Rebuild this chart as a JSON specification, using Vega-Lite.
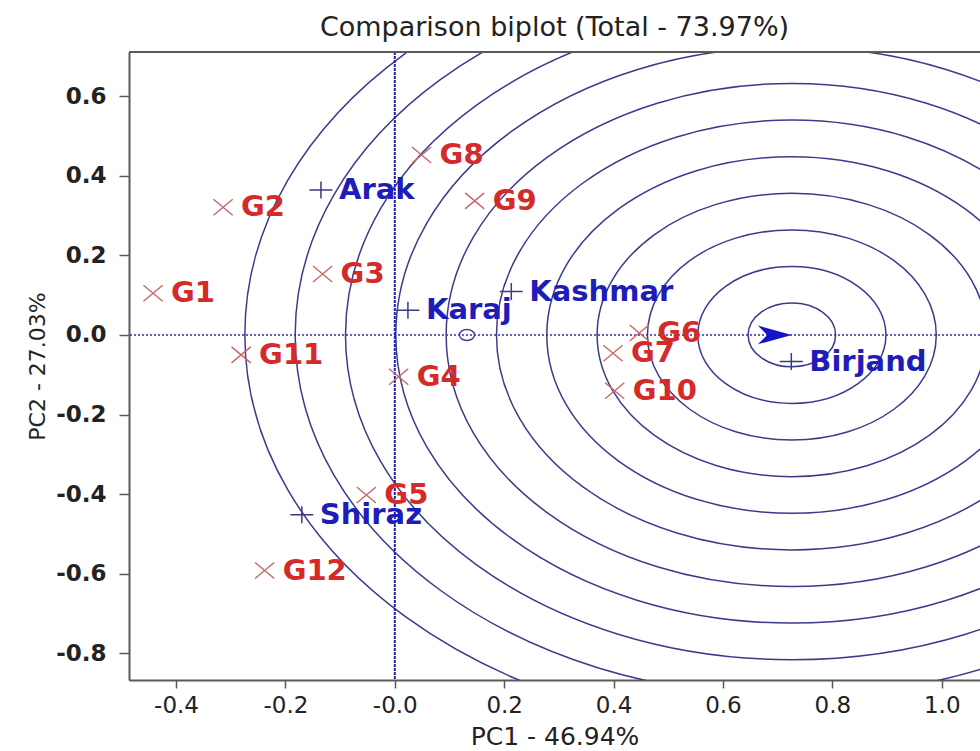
{
  "$schema": "https://vega.github.io/schema/vega-lite/v6.json",
  "width": 851,
  "height": 628,
  "autosize": {"type": "none"},
  "padding": {"left": 129, "top": 52, "right": 0, "bottom": 71},
  "background": "white",
  "title": {"text": "Comparison biplot (Total - 73.97%)", "font": "DejaVu Sans", "fontSize": 27, "fontWeight": "normal", "color": "#222222", "offset": 9, "anchor": "middle"},
  "config": {"view": {"stroke": null}, "axis": {"grid": false}},
  "datasets": {
    "rings": [
      {"pc1": 0.726, "pc2": 0, "r": 0.08},
      {"pc1": 0.726, "pc2": 0, "r": 0.172},
      {"pc1": 0.726, "pc2": 0, "r": 0.264},
      {"pc1": 0.726, "pc2": 0, "r": 0.356},
      {"pc1": 0.726, "pc2": 0, "r": 0.448},
      {"pc1": 0.726, "pc2": 0, "r": 0.54},
      {"pc1": 0.726, "pc2": 0, "r": 0.632},
      {"pc1": 0.726, "pc2": 0, "r": 0.724},
      {"pc1": 0.726, "pc2": 0, "r": 0.816},
      {"pc1": 0.726, "pc2": 0, "r": 0.908},
      {"pc1": 0.726, "pc2": 0, "r": 1.0}
    ],
    "genotypes": [
      {"name": "G1", "pc1": -0.442, "pc2": 0.105},
      {"name": "G2", "pc1": -0.314, "pc2": 0.321},
      {"name": "G3", "pc1": -0.132, "pc2": 0.153},
      {"name": "G4", "pc1": 0.007, "pc2": -0.105},
      {"name": "G5", "pc1": -0.052, "pc2": -0.402},
      {"name": "G6", "pc1": 0.447, "pc2": 0.005},
      {"name": "G7", "pc1": 0.399, "pc2": -0.046},
      {"name": "G8", "pc1": 0.049, "pc2": 0.452},
      {"name": "G9", "pc1": 0.146, "pc2": 0.337},
      {"name": "G10", "pc1": 0.402, "pc2": -0.14},
      {"name": "G11", "pc1": -0.281, "pc2": -0.05},
      {"name": "G12", "pc1": -0.238, "pc2": -0.592}
    ],
    "environments": [
      {"name": "Arak", "pc1": -0.135, "pc2": 0.364},
      {"name": "Karaj", "pc1": 0.024, "pc2": 0.062},
      {"name": "Kashmar", "pc1": 0.213, "pc2": 0.109},
      {"name": "Birjand", "pc1": 0.725, "pc2": -0.067},
      {"name": "Shiraz", "pc1": -0.17, "pc2": -0.452}
    ],
    "ideal": [{"pc1": 0.726, "pc2": 0}],
    "average": [{"pc1": 0.132, "pc2": 0}],
    "refx": [{"pc1": 0}],
    "refy": [{"pc2": 0}],
    "frametop": [{"pc2": 0.711}]
  },
  "layer": [
    {
      "data": {"name": "rings"},
      "mark": {"type": "point", "shape": "M-1.3744,0A1.3744,1 0 1,0 1.3744,0A1.3744,1 0 1,0 -1.3744,0Z", "filled": false, "stroke": "#3b3b8c", "strokeWidth": 1.5, "opacity": 1, "clip": true},
      "encoding": {
        "x": {"field": "pc1", "type": "quantitative", "title": "PC1 - 46.94%", "scale": {"domain": [-0.486, 1.07], "nice": false, "zero": false},
          "axis": {"values": [-0.4, -0.2, 0, 0.2, 0.4, 0.6, 0.8, 1.0], "labelExpr": "datum.value == 0 ? '-0.0' : (datum.value < 0 ? '-' : '') + format(abs(datum.value), '.1f')", "domainColor": "#5a5a5a", "domainWidth": 2, "tickColor": "#5a5a5a", "tickWidth": 1.5, "tickSize": 8, "labelFont": "DejaVu Sans", "labelFontSize": 23, "labelColor": "#222222", "labelPadding": 6, "titleFont": "DejaVu Sans", "titleFontSize": 25, "titleFontWeight": "normal", "titleColor": "#222222", "titlePadding": 7}},
        "y": {"field": "pc2", "type": "quantitative", "title": "PC2 - 27.03%", "scale": {"domain": [-0.867, 0.711], "nice": false, "zero": false},
          "axis": {"values": [-0.8, -0.6, -0.4, -0.2, 0, 0.2, 0.4, 0.6], "labelExpr": "(datum.value < -0.001 ? '-' : '') + format(abs(datum.value), '.1f')", "domainColor": "#5a5a5a", "domainWidth": 2, "tickColor": "#5a5a5a", "tickWidth": 1.5, "tickSize": 10, "labelFont": "DejaVu Sans", "labelFontWeight": "bold", "labelFontSize": 23, "labelColor": "#222222", "labelPadding": 13, "titleFont": "DejaVu Sans", "titleFontSize": 22, "titleFontWeight": "normal", "titleColor": "#222222", "titlePadding": 6}},
        "size": {"field": "r", "type": "quantitative", "scale": {"type": "pow", "exponent": 2, "domain": [0, 1], "range": [0, 633616]}, "legend": null}
      }
    },
    {
      "data": {"name": "refy"},
      "mark": {"type": "rule", "color": "#30309a", "strokeWidth": 1.5, "strokeDash": [2, 2]},
      "encoding": {
        "y": {"field": "pc2", "type": "quantitative"}
      }
    },
    {
      "data": {"name": "refx"},
      "mark": {"type": "rule", "color": "#2323a8", "strokeWidth": 2, "strokeDash": [3, 1]},
      "encoding": {
        "x": {"field": "pc1", "type": "quantitative"}
      }
    },
    {
      "data": {"name": "frametop"},
      "mark": {"type": "rule", "color": "#5a5a5a", "strokeWidth": 2},
      "encoding": {
        "y": {"field": "pc2", "type": "quantitative"}
      }
    },
    {
      "data": {"name": "average"},
      "mark": {"type": "point", "shape": "M-1.3744,0A1.3744,1 0 1,0 1.3744,0A1.3744,1 0 1,0 -1.3744,0Z", "filled": false, "stroke": "#3a3a9a", "strokeWidth": 1.4, "opacity": 1, "size": 121},
      "encoding": {
        "x": {"field": "pc1", "type": "quantitative"},
        "y": {"field": "pc2", "type": "quantitative"}
      }
    },
    {
      "data": {"name": "ideal"},
      "mark": {"type": "point", "shape": "M0,0L-2,-0.55L-1.45,0L-2,0.55Z", "filled": true, "fill": "#1414c8", "strokeWidth": 0, "opacity": 1, "size": 1156},
      "encoding": {
        "x": {"field": "pc1", "type": "quantitative"},
        "y": {"field": "pc2", "type": "quantitative"}
      }
    },
    {
      "data": {"name": "genotypes"},
      "mark": {"type": "point", "shape": "M-1.2,-1L1.2,1M-1.2,1L1.2,-1", "filled": false, "stroke": "#cc6666", "strokeWidth": 1.4, "opacity": 1, "size": 256},
      "encoding": {
        "x": {"field": "pc1", "type": "quantitative"},
        "y": {"field": "pc2", "type": "quantitative"}
      }
    },
    {
      "data": {"name": "environments"},
      "mark": {"type": "point", "shape": "M-1.35,0L1.35,0M0,-1L0,1", "filled": false, "stroke": "#3a3a80", "strokeWidth": 1.5, "opacity": 1, "size": 289},
      "encoding": {
        "x": {"field": "pc1", "type": "quantitative"},
        "y": {"field": "pc2", "type": "quantitative"}
      }
    },
    {
      "data": {"name": "genotypes"},
      "mark": {"type": "text", "align": "left", "baseline": "middle", "dx": 18, "font": "DejaVu Sans", "fontWeight": "bold", "fontSize": 29, "fill": "#d42a2a"},
      "encoding": {
        "x": {"field": "pc1", "type": "quantitative"},
        "y": {"field": "pc2", "type": "quantitative"},
        "text": {"field": "name"}
      }
    },
    {
      "data": {"name": "environments"},
      "mark": {"type": "text", "align": "left", "baseline": "middle", "dx": 18, "font": "DejaVu Sans", "fontWeight": "bold", "fontSize": 29, "fill": "#1d1db8"},
      "encoding": {
        "x": {"field": "pc1", "type": "quantitative"},
        "y": {"field": "pc2", "type": "quantitative"},
        "text": {"field": "name"}
      }
    }
  ]
}
